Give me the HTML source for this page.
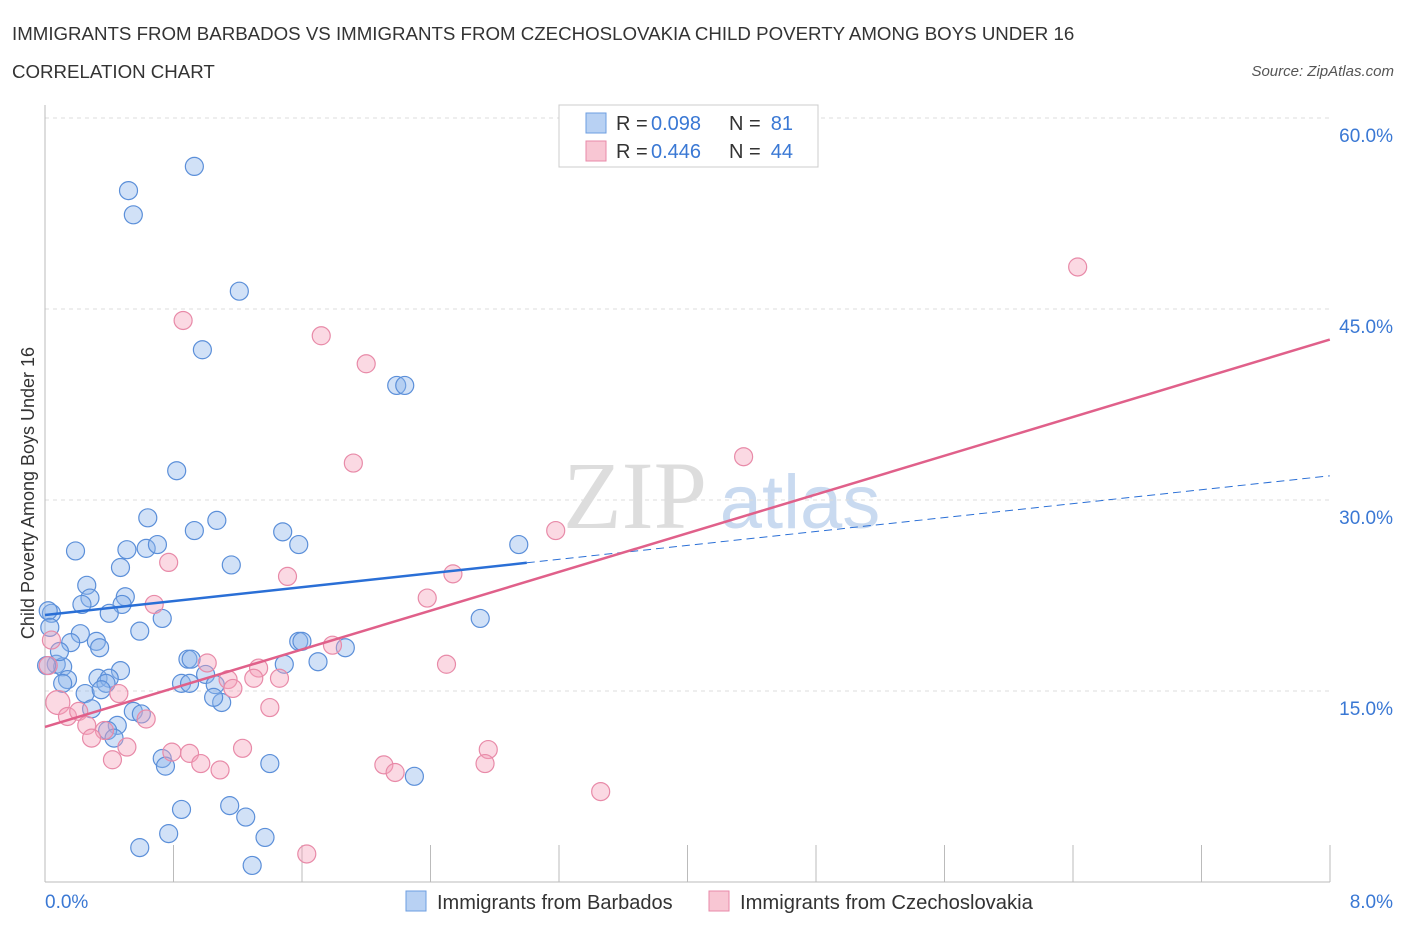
<!DOCTYPE html>
<html><head><meta charset="utf-8"><style>
body{margin:0;background:#fff;width:1406px;height:930px;overflow:hidden;font-family:"Liberation Sans",sans-serif}
</style></head><body>
<svg id="chart" width="1406" height="930" xmlns="http://www.w3.org/2000/svg" font-family="Liberation Sans, sans-serif">
<text x="12" y="40" font-size="18.7" fill="#333">IMMIGRANTS FROM BARBADOS VS IMMIGRANTS FROM CZECHOSLOVAKIA CHILD POVERTY AMONG BOYS UNDER 16</text>
<text x="12" y="78" font-size="18.7" fill="#333">CORRELATION CHART</text>
<text x="1394" y="76" font-size="15" fill="#555" font-style="italic" text-anchor="end">Source: ZipAtlas.com</text>
<g><text x="635" y="528" font-size="96" font-family="Liberation Serif, serif" fill="#ddd" text-anchor="middle">ZIP</text><text x="800" y="528" font-size="76" fill="#c9daf0" text-anchor="middle">atlas</text></g>
<g id="grid"></g><g id="axes"></g><g id="pts"></g><g id="lines"></g>
<g>
<rect x="559" y="105" width="259" height="62" fill="#fff" stroke="#ccc"/>
<rect x="586" y="113" width="20" height="20" fill="#b8d1f3" stroke="#6d9ee0"/>
<text x="616" y="130" font-size="20" fill="#333">R =</text>
<text x="651" y="130" font-size="20" fill="#3a78d4">0.098</text>
<text x="729" y="130" font-size="20" fill="#333">N =</text>
<text x="793" y="130" font-size="20" fill="#3a78d4" text-anchor="end">81</text>
<rect x="586" y="141" width="20" height="20" fill="#f8c6d3" stroke="#e88aa8"/>
<text x="616" y="158" font-size="20" fill="#333">R =</text>
<text x="651" y="158" font-size="20" fill="#3a78d4">0.446</text>
<text x="729" y="158" font-size="20" fill="#333">N =</text>
<text x="793" y="158" font-size="20" fill="#3a78d4" text-anchor="end">44</text>
</g>
<g>
<rect x="406" y="891" width="20" height="20" fill="#b8d1f3" stroke="#6d9ee0"/>
<text x="437" y="909" font-size="20" fill="#333">Immigrants from Barbados</text>
<rect x="709" y="891" width="20" height="20" fill="#f8c6d3" stroke="#e88aa8"/>
<text x="740" y="909" font-size="20.2" fill="#333">Immigrants from Czechoslovakia</text>
</g>
<text transform="translate(34,493) rotate(-90)" font-size="18" fill="#333" text-anchor="middle">Child Poverty Among Boys Under 16</text>
</svg>
<script>
const yTicks=[15,30,45,60];
const yTickLabels=["15.0%","30.0%","45.0%","60.0%"];
const xTickLabels=["0.0%","8.0%"];
const blueX=[0.93,0.52,0.55,1.21,0.98,2.19,2.24,0.82,0.64,1.07,0.93,1.48,0.19,0.51,0.63,0.70,1.58,1.16,0.47,2.95,0.26,0.28,0.23,0.50,0.48,0.40,0.73,2.71,0.04,0.02,0.03,0.59,0.22,0.32,0.16,0.34,1.58,1.60,1.70,1.87,0.07,0.11,0.09,0.01,0.47,0.89,0.91,1.49,1.00,0.33,0.40,0.38,0.14,0.11,0.25,0.35,0.85,0.90,1.06,1.10,1.05,0.29,0.55,0.60,0.45,0.39,0.43,0.73,0.75,1.40,2.30,0.85,1.15,1.25,0.77,1.37,0.59,1.29];
const blueY=[56.2,54.3,52.4,46.4,41.8,39.0,39.0,32.3,28.6,28.4,27.6,27.5,26.0,26.1,26.2,26.5,26.5,24.9,24.7,26.5,23.3,22.3,21.8,22.4,21.8,21.1,20.7,20.7,21.1,21.3,20.0,19.7,19.5,18.9,18.8,18.4,18.9,18.9,17.3,18.4,17.1,16.9,18.1,17.0,16.6,17.5,17.5,17.1,16.3,16.0,16.0,15.6,15.9,15.6,14.8,15.1,15.6,15.6,15.5,14.1,14.5,13.6,13.4,13.2,12.3,11.9,11.3,9.7,9.1,9.3,8.3,5.7,6.0,5.1,3.8,3.5,2.7,1.3];
const pinkX=[6.43,0.86,1.72,2.00,1.92,4.35,3.18,0.77,1.51,2.54,2.38,0.68,1.79,1.01,1.33,2.50,1.14,1.46,1.30,1.17,0.46,0.08,0.02,0.04,0.14,0.21,0.63,0.26,0.37,0.29,1.40,0.51,0.42,1.23,0.79,0.90,0.97,2.76,2.74,2.11,2.18,1.09,3.46,1.63];
const pinkY=[48.3,44.1,42.9,40.7,32.9,33.4,27.6,25.1,24.0,24.2,22.3,21.8,18.6,17.2,16.8,17.1,15.9,16.0,16.0,15.2,14.8,14.1,17.0,19.0,13.0,13.4,12.8,12.3,11.9,11.3,13.7,10.6,9.6,10.5,10.2,10.1,9.3,10.4,9.3,9.2,8.6,8.8,7.1,2.2];
const blueTrend=[20.97,31.9]; const blueSolidEnd=3.0;
const pinkTrend=[12.18,42.6];
const X=v=>45+v*160.6, Y=v=>882-v*12.733;
const NS="http://www.w3.org/2000/svg";
function mk(tag,attrs,parent){const e=document.createElementNS(NS,tag);for(const k in attrs)e.setAttribute(k,attrs[k]);parent.appendChild(e);return e;}
const grid=document.getElementById('grid'),axes=document.getElementById('axes'),pts=document.getElementById('pts'),lines=document.getElementById('lines');
yTicks.forEach((t,i)=>{
 const g=mk('line',{x1:45,x2:1330,y1:Y(t),y2:Y(t),stroke:'#ddd','stroke-dasharray':'4,4'},grid);
 
 
 const l=mk('text',{x:1393,y:Y(t)+24,'font-size':19,fill:'#3a78d4','text-anchor':'end'},axes);
 l.textContent=yTickLabels[i];
 
 
});
const ax=mk('line',{x1:45,x2:45,y1:105,y2:882,stroke:'#bbb'},axes);


const bx=mk('line',{x1:45,x2:1330,y1:882,y2:882,stroke:'#bbb'},axes);


for(let i=1;i<=10;i++){const t=mk('line',{x1:45+i*128.5,x2:45+i*128.5,y1:845,y2:882,stroke:'#bbb'},axes);
 
 }
xTickLabels.forEach((s,i)=>{const t=mk('text',{x:i?1393:45,y:908,'font-size':19,fill:'#3a78d4','text-anchor':i?'end':'start'},axes);t.textContent=s;
 
 });
blueX.forEach((v,i)=>{const c=mk('circle',{cx:X(v),cy:Y(blueY[i]),r:9,fill:'rgba(140,180,235,0.4)',stroke:'#5b8fd9','stroke-width':1.2},pts);
 
 });
pinkX.forEach((v,i)=>{const c=mk('circle',{cx:X(v),cy:Y(pinkY[i]),r:i==21?12:9,fill:'rgba(245,160,185,0.4)',stroke:'#e88aa8','stroke-width':1.2},pts);
 
 });
const bs=blueTrend[0]+(blueTrend[1]-blueTrend[0])*blueSolidEnd/8;
const l1=mk('line',{x1:X(0),y1:Y(blueTrend[0]),x2:X(blueSolidEnd),y2:Y(bs),stroke:'#2a6fd6','stroke-width':2.5},lines);


const l2=mk('line',{x1:X(blueSolidEnd),y1:Y(bs),x2:X(8),y2:Y(blueTrend[1]),stroke:'#2a6fd6','stroke-width':1,'stroke-dasharray':'8,5'},lines);


const l3=mk('line',{x1:X(0),y1:Y(pinkTrend[0]),x2:X(8),y2:Y(pinkTrend[1]),stroke:'#e0608a','stroke-width':2.5},lines);


</script>
</body></html>
